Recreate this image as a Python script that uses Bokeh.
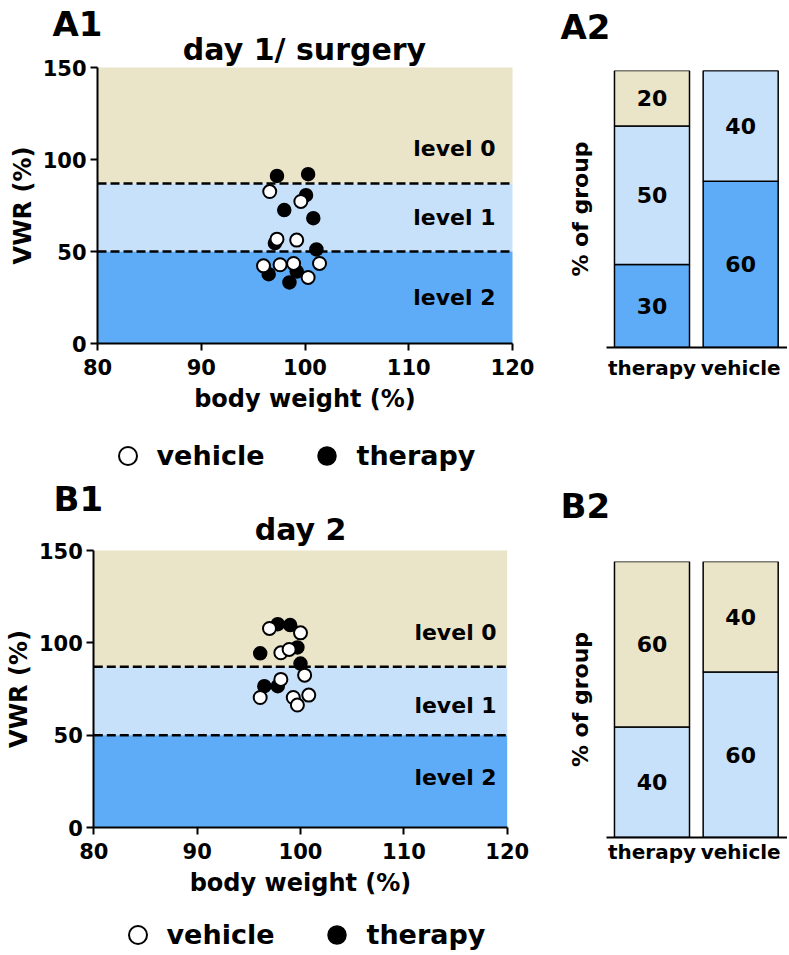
from bokeh.plotting import figure
from bokeh.models import Range1d, FixedTicker, Label, Legend, LegendItem, ColumnDataSource
from bokeh.layouts import row, column
from bokeh.embed import file_html
from bokeh.resources import INLINE
from bokeh.core.properties import value

# ---------------- data ----------------
bw_limits = (80, 120)
vwr_limits = (0, 150)
bw_ticks = [80, 90, 100, 110, 120]
vwr_ticks = [0, 50, 100, 150]

level_names = ["level 0", "level 1", "level 2"]
level_lo = [87, 50, 0]
level_hi = [150, 87, 50]
thresholds = [87, 50]

# day 1 / surgery
day1_vehicle_bw = [96.6, 99.6, 97.3, 99.2, 96.0, 97.6, 98.9, 101.4, 100.3]
day1_vehicle_vwr = [82.6, 77.2, 56.7, 56.2, 42.2, 42.8, 43.5, 43.5, 35.9]
day1_therapy_bw = [97.3, 100.3, 100.1, 98.0, 100.8, 101.1, 97.1, 96.5, 98.5, 99.2]
day1_therapy_vwr = [91.1, 92.0, 80.6, 72.5, 68.1, 51.1, 54.5, 37.7, 33.2, 39.1]

# day 2
day2_vehicle_bw = [97.0, 100.0, 98.1, 98.9, 100.4, 98.1, 96.1, 99.3, 99.7, 100.8]
day2_vehicle_vwr = [107.8, 105.4, 94.6, 96.4, 82.5, 80.2, 70.4, 70.4, 66.3, 71.7]
day2_therapy_bw = [97.8, 99.0, 99.7, 96.1, 100.0, 96.5, 97.8]
day2_therapy_vwr = [110.1, 109.6, 97.5, 94.3, 88.8, 76.5, 76.5]

# % of group per level
groups = ["therapy", "vehicle"]
day1_level2 = [30, 60]
day1_level1 = [50, 40]
day1_level0 = [20, 0]
day2_level2 = [0, 0]
day2_level1 = [40, 60]
day2_level0 = [60, 40]

# ---------------- style ----------------
FONT = "DejaVu Sans"
C0 = "#EAE4C9"   # level 0
C1 = "#C8E1FB"   # level 1
C2 = "#5EACF8"   # level 2
level_colors = [C0, C1, C2]


def style_axis(ax, size="21px", standoff=5):
    ax.major_label_text_font = FONT
    ax.major_label_text_font_style = "bold"
    ax.major_label_text_font_size = size
    ax.major_label_text_color = "black"
    ax.major_label_standoff = standoff
    ax.axis_line_width = 2
    ax.axis_line_color = "black"
    ax.major_tick_line_width = 2
    ax.major_tick_line_color = "black"
    ax.major_tick_in = 0
    ax.major_tick_out = 7
    ax.minor_tick_line_color = None
    ax.axis_label_text_font = FONT
    ax.axis_label_text_font_style = "bold"
    ax.axis_label_text_color = "black"


def add_label(p, x, y, text, size, align="left", units="screen"):
    p.add_layout(Label(x=x, y=y, x_units=units, y_units=units, text=text,
                       text_font=FONT, text_font_size=size, text_font_style="bold",
                       text_align=align, text_baseline="middle", text_color="black"))


def scatter_panel(width, height, plot_box, tag, tag_pos, title, title_pos,
                  vbw, vvwr, tbw, tvwr, lvl_x, lvl_y, legend_pos):
    """plot_box = (left, right, top, bottom) pixel edges of the 80-120 x 0-150 area
    inside this figure; the frame covers the whole figure and the axes are pinned."""
    left, right, top, bottom = plot_box
    sx = (right - left) / (bw_limits[1] - bw_limits[0])
    sy = (bottom - top) / (vwr_limits[1] - vwr_limits[0])
    xr = Range1d(bw_limits[0] - left / sx, bw_limits[1] + (width - right) / sx)
    yr = Range1d(vwr_limits[0] - (height - bottom) / sy, vwr_limits[1] + top / sy)
    p = figure(width=width, height=height, x_range=xr, y_range=yr,
               output_backend="svg", toolbar_location=None, min_border=0)
    p.grid.visible = False
    p.outline_line_color = None

    p.quad(left=bw_limits[0], right=bw_limits[1], bottom=level_lo, top=level_hi,
           fill_color=level_colors, line_color=None)
    p.segment(x0=bw_limits[0], x1=bw_limits[1], y0=thresholds, y1=thresholds,
              line_color="black", line_width=2.5, line_dash="9 4")

    rt = p.scatter(tbw, tvwr, size=13, fill_color="black", line_color="black", line_width=1.5)
    rv = p.scatter(vbw, vvwr, size=13, fill_color="white", line_color="black", line_width=2)

    xa, ya = p.xaxis[0], p.yaxis[0]
    xa.ticker = FixedTicker(ticks=bw_ticks)
    ya.ticker = FixedTicker(ticks=vwr_ticks)
    xa.bounds = bw_limits
    ya.bounds = vwr_limits
    xa.fixed_location = vwr_limits[0]
    ya.fixed_location = bw_limits[0]
    style_axis(xa, standoff=8)
    style_axis(ya, standoff=4)
    xa.axis_label = "body weight (%)"
    xa.axis_label_text_font_size = "24px"
    xa.axis_label_standoff = 7
    ya.axis_label = "VWR (%)"
    ya.axis_label_text_font_size = "24px"
    ya.axis_label_standoff = 3

    for name, lx, ly in zip(level_names, lvl_x, lvl_y):
        add_label(p, lx, ly, name, "22px", align="center", units="data")

    add_label(p, tag_pos[0], height - tag_pos[1], tag, "34px")
    add_label(p, title_pos[0], height - title_pos[1], title, "30px", align="center")

    legend = Legend(items=[LegendItem(label="vehicle", renderers=[rv]),
                           LegendItem(label="therapy", renderers=[rt])],
                    orientation="horizontal", location=legend_pos,
                    glyph_width=45, glyph_height=45, label_standoff=7, spacing=40,
                    padding=0, margin=0, border_line_color=None, background_fill_alpha=0,
                    label_text_font=FONT, label_text_font_style="bold",
                    label_text_font_size="27px", label_text_color="black")
    p.add_layout(legend)
    return p


def header(w, h, tag, x, center_from_top):
    p = figure(width=w, height=h, x_range=Range1d(0, 1), y_range=Range1d(0, 1),
               x_axis_type=None, y_axis_type=None, output_backend="svg",
               toolbar_location=None, min_border=0)
    p.outline_line_color = None
    add_label(p, x, h - center_from_top, tag, "34px")
    return p


def bar_panel(height, top, bottom, l2, l1, l0, xlab_standoff, ylab_standoff):
    p = figure(width=247, height=height, x_range=Range1d(0.487, 2.528), y_range=Range1d(0, 100),
               output_backend="svg", toolbar_location=None,
               min_border_left=66, min_border_right=0,
               min_border_top=top, min_border_bottom=bottom)
    p.grid.visible = False
    p.outline_line_color = None
    xs = list(range(1, len(groups) + 1))
    src = ColumnDataSource(dict(x=xs, level2=l2, level1=l1, level0=l0))
    p.vbar_stack(["level2", "level1", "level0"], x="x", width=0.846, source=src,
                 fill_color=[C2, C1, C0], line_color="black", line_width=1.5)

    tx, ty, tt = [], [], []
    for i, x in enumerate(xs):
        base = 0
        for vals in (l2, l1, l0):
            v = vals[i]
            if v > 0:
                tx.append(x)
                ty.append(base + v / 2)
                tt.append(str(v))
            base += v
    p.text(x=tx, y=ty, text=tt, text_font=value(FONT), text_font_size="22px",
           text_font_style="bold", text_align="center", text_baseline="middle", text_color="black")

    p.xaxis.ticker = FixedTicker(ticks=xs)
    p.xaxis.major_label_overrides = {x: g for x, g in zip(xs, groups)}
    style_axis(p.xaxis[0], size="20px", standoff=xlab_standoff)
    p.xaxis.major_tick_out = 0

    yax = p.yaxis[0]
    yax.ticker = FixedTicker(ticks=[])
    yax.bounds = (0, 95)
    yax.axis_line_color = None
    yax.major_tick_line_color = None
    yax.minor_tick_line_color = None
    yax.major_label_standoff = 0
    yax.axis_label = "% of group"
    yax.axis_label_text_font = FONT
    yax.axis_label_text_font_style = "bold"
    yax.axis_label_text_font_size = "22px"
    yax.axis_label_text_color = "black"
    yax.axis_label_standoff = ylab_standoff
    return p


# ----- left column (scatter panels) -----
a1 = scatter_panel(540, 478, (97, 512, 67, 343), "A1", (52, 23), "day 1/ surgery", (304, 49),
                   day1_vehicle_bw, day1_vehicle_vwr, day1_therapy_bw, day1_therapy_vwr,
                   [114.4, 114.4, 114.4], [106, 68.3, 24.8], (104.5, 0))
b1 = scatter_panel(540, 475, (93.3, 506.7, 72, 349), "B1", (53, 20), "day 2", (300, 51),
                   day2_vehicle_bw, day2_vehicle_vwr, day2_therapy_bw, day2_therapy_vwr,
                   [115.0, 115.0, 115.0], [105.8, 66, 27], (114.5, -4))

# ----- right column (bar panels) -----
hA2 = header(247, 62, "A2", 20, 26)
a2 = bar_panel(416, 8, 131, day1_level2, day1_level1, day1_level0, 8, 14)
hB2 = header(247, 62, "B2", 20, 27.5)
b2 = bar_panel(413, 21, 116, day2_level2, day2_level1, day2_level0, 2, 14)

left = column(row(a1), row(b1))
right = column(row(hA2), row(a2), row(hB2), row(b2))
layout = row(left, right)
open("out.html", "w").write(file_html(layout, INLINE))
